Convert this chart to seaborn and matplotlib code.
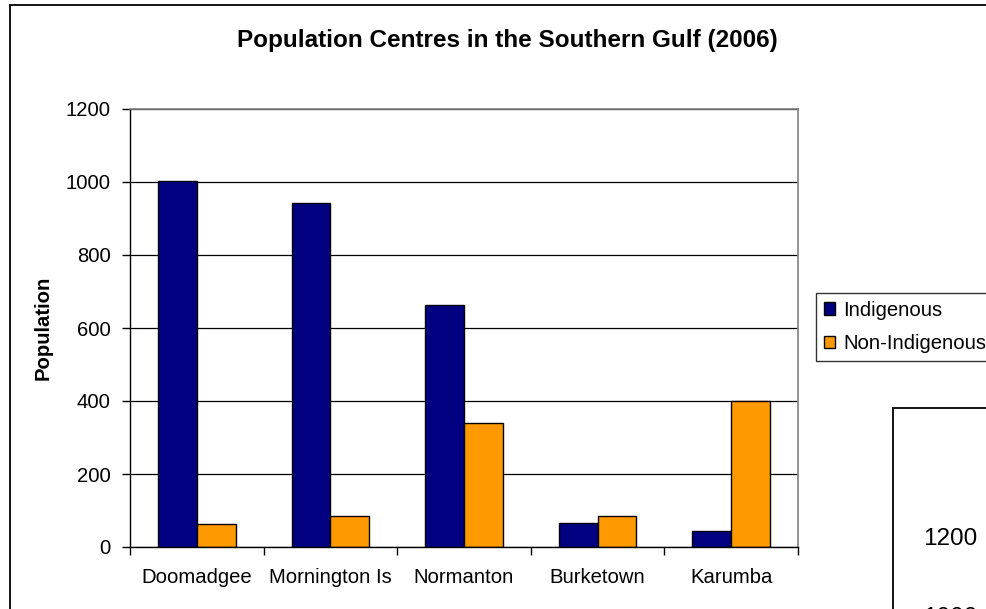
import matplotlib
matplotlib.use("Agg")
import matplotlib.pyplot as plt
import seaborn as sns
import pandas as pd
from matplotlib.patches import Rectangle, Patch
from matplotlib.ticker import FixedLocator, MultipleLocator

categories = ["Doomadgee", "Mornington Is", "Normanton", "Burketown", "Karumba"]
indigenous = [1003, 942, 662, 67, 45]
non_indigenous = [62, 84, 340, 84, 400]
series_names = ["Indigenous", "Non-Indigenous"]
colors = ["#000080", "#FF9900"]
title = "Population Centres in the Southern Gulf (2006)"
ylabel = "Population"
overlap_ticks = ["1200", "1000"]

df = pd.DataFrame({
    "Centre": categories * 2,
    "Population": indigenous + non_indigenous,
    "Series": [series_names[0]] * len(categories) + [series_names[1]] * len(categories),
})

sns.set_theme(style="white")
plt.rcParams["font.family"] = ["Liberation Sans", "DejaVu Sans"]
plt.rcParams["text.color"] = "black"
plt.rcParams["axes.labelcolor"] = "black"
plt.rcParams["xtick.color"] = "black"
plt.rcParams["ytick.color"] = "black"
plt.rcParams["xtick.labelcolor"] = "black"
plt.rcParams["ytick.labelcolor"] = "black"

FS = 14.6
W, H = 987, 609
fig = plt.figure(figsize=(W / 100, H / 100), dpi=100)
fig.patch.set_facecolor("white")

# outer chart border (extends off the canvas right and bottom)
fig.add_artist(Rectangle((10 / W, -0.2), 1.5, 1 - 5 / H + 0.2, transform=fig.transFigure,
                         fill=False, edgecolor="black", linewidth=1.3, zorder=0))

left, right, top, bottom = 130, 798, 109, 547
ax = fig.add_axes([left / W, (H - bottom) / H, (right - left) / W, (bottom - top) / H])

sns.barplot(data=df, x="Centre", y="Population", hue="Series", palette=colors,
            width=0.58, edgecolor="black", linewidth=1.0, ax=ax, legend=False,
            saturation=1)

ax.set_xlim(-0.5, len(categories) - 0.5)
ax.set_ylim(0, 1200)
ax.yaxis.set_major_locator(MultipleLocator(200))
ax.grid(axis="y", color="black", linewidth=0.9)
ax.set_axisbelow(True)

for s in ["top", "right"]:
    ax.spines[s].set_color("#808080")
    ax.spines[s].set_linewidth(1.2)
for s in ["left", "bottom"]:
    ax.spines[s].set_color("black")
    ax.spines[s].set_linewidth(1.0)

ax.set_xlabel("")
ax.set_ylabel("")
ax.tick_params(axis="y", which="major", direction="out", length=6, width=1, color="black",
               left=True, pad=8, labelsize=FS, labelcolor="black")
ax.tick_params(axis="x", which="major", length=0, pad=15, labelsize=FS, labelcolor="black")
ax.xaxis.set_minor_locator(FixedLocator([i - 0.5 for i in range(len(categories) + 1)]))
ax.tick_params(axis="x", which="minor", direction="out", length=6, width=1, color="black",
               bottom=True)

fig.text(43 / W, 1 - 328 / H, ylabel, rotation=90, ha="center", va="center",
         fontsize=FS, fontweight="bold", color="black")
fig.text(507 / W, 1 - 47 / H, title, ha="center", va="baseline", fontsize=17.5,
         fontweight="bold", color="black")

handles = [Patch(facecolor=c, edgecolor="black", linewidth=1.0) for c in colors]
leg = fig.legend(handles, series_names, loc="upper left",
                 bbox_to_anchor=(816 / W, 1 - 293 / H), bbox_transform=fig.transFigure,
                 borderaxespad=0, frameon=True, fancybox=False, fontsize=FS,
                 handlelength=0.55, handleheight=0.55, handletextpad=0.4,
                 labelspacing=0.72, borderpad=0.38)
leg.get_frame().set_edgecolor("black")
leg.get_frame().set_linewidth(1.0)
for t in leg.get_texts():
    t.set_color("black")

# overlapping second chart at bottom right
fig.add_artist(Rectangle((893 / W, -0.2), 0.5, (H - 408) / H + 0.2, transform=fig.transFigure,
                         facecolor="white", edgecolor="black", linewidth=1.3, zorder=5))
fig.text(923 / W, 1 - 545 / H, overlap_ticks[0], ha="left", va="baseline", fontsize=17.5,
         zorder=6, color="black")
fig.text(923 / W, 1 - 623.5 / H, overlap_ticks[1], ha="left", va="baseline", fontsize=17.5,
         zorder=6, color="black")

fig.savefig("out.png", dpi=100)
